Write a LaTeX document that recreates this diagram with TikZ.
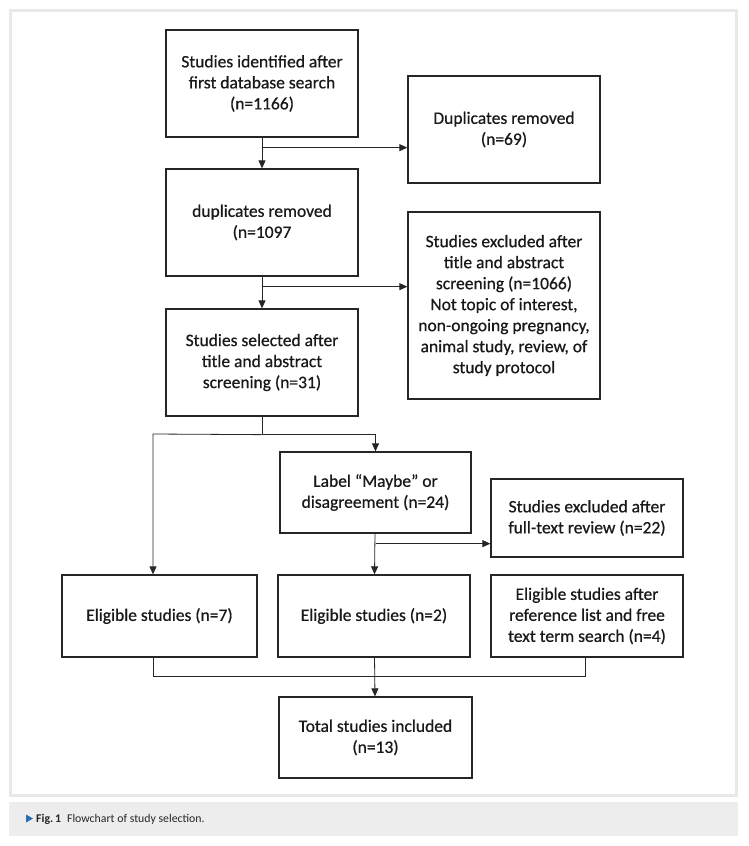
\documentclass[tikz,border=0pt]{standalone}
\usepackage{fontspec}
\setmainfont{Carlito}
\newfontfamily\boxfont{Carlito}[FakeBold=0.6]
\usetikzlibrary{arrows.meta, positioning}
\colorlet{framegray}{black!9}
\colorlet{capgray}{black!7}
\colorlet{boxline}{black!85}
\definecolor{capblue}{RGB}{40,110,180}

\begin{document}
\begin{tikzpicture}[x=1pt, y=-1pt, >={Triangle[length=8pt, width=7pt]},
    flowbox/.style={draw=boxline, line width=1.3pt, align=center, inner sep=0pt,
      minimum width=192pt, text=black!90, font=\boxfont\fontsize{17.5}{21}\selectfont},
    link/.style={draw=boxline, line width=0.8pt}]
    % Page, frame and caption bar
    \useasboundingbox (0,0) rectangle (749,846);
    \fill[white] (0,0) rectangle (749,846);
    \draw[framegray, line width=3pt] (10.5,10.5) rectangle (736.5,795.5);
    \fill[capgray] (9,802) rectangle (738,836);

    % Left column
    \node[flowbox, minimum height=107pt] (ident) at (262,83.5)
      {Studies identified after\\first database search\\(n=1166)};
    \node[flowbox, minimum height=107pt] (dedup) at (262,222.5)
      {duplicates removed\\(n=1097};
    \node[flowbox, minimum height=107pt] (selected) at (262,362.5)
      {Studies selected after\\title and abstract\\screening (n=31)};

    % Right column
    \node[flowbox, minimum height=107pt] (dup) at (504,129.5)
      {Duplicates removed\\(n=69)};
    \node[flowbox, minimum height=187pt] (excl) at (504,305.5)
      {Studies excluded after\\title and abstract\\screening (n=1066)\\Not topic of interest,\\non-ongoing pregnancy,\\animal study, review, of\\study protocol};

    % Second stage
    \node[flowbox, minimum width=191pt, minimum height=81pt] (maybe) at (375.5,492.5)
      {Label “Maybe” or\\disagreement (n=24)};
    \node[flowbox, minimum height=78pt] (fulltext) at (587,518)
      {Studies excluded after\\full-text review (n=22)};

    % Eligible studies
    \node[flowbox, minimum width=195pt, minimum height=82pt] (elig7) at (159.5,616)
      {Eligible studies (n=7)};
    \node[flowbox, minimum height=82pt] (elig2) at (374,616)
      {Eligible studies (n=2)};
    \node[flowbox, minimum height=82pt] (elig4) at (587,616)
      {Eligible studies after\\reference list and free\\text term search (n=4)};

    % Total
    \node[flowbox, minimum width=193pt, minimum height=81pt] (total) at (375.5,737.5)
      {Total studies included\\(n=13)};

    % Connectors
    \coordinate (split1) at ([yshift=-10pt]ident.south);
    \coordinate (split2) at ([yshift=-10pt]dedup.south);
    \coordinate (split3) at ([yshift=-18pt]selected.south);
    \coordinate (leftdrop) at (153,434);
    \coordinate (split4) at ([yshift=-10pt]maybe.south);
    \coordinate (merge) at ([yshift=-19pt]elig2.south);

    \draw[link, ->] (ident) -- (dedup);
    \draw[link, ->] (split1) -- (split1 -| dup.west);
    \draw[link, ->] (dedup) -- (selected);
    \draw[link, ->] (split2) -- (split2 -| excl.west);

    \draw[link] (selected.south) -- (split3);
    \draw[link, ->] (split3) -| (maybe.north);
    \draw[link, ->] (split3) -- (leftdrop) -- (leftdrop |- elig7.north);

    \draw[link, ->] (maybe) -- (elig2);
    \draw[link, ->] (split4) -- (split4 -| fulltext.west);

    \draw[link] (leftdrop |- elig7.south) |- (merge);
    \draw[link] ([xshift=-2pt]elig4.south) |- (merge);
    \draw[link, ->] (elig2) -- (total);

    % Caption
    \fill[capblue] (26,814.5) -- (33,818.5) -- (26,822.5) -- cycle;
    \node[anchor=west, inner sep=0pt, text=black!85, font=\fontsize{11.8}{14}\selectfont] (caption) at (36,819)
      {\textbf{Fig.\,1}\enspace Flowchart of study selection.};
  \end{tikzpicture}
\end{document}
